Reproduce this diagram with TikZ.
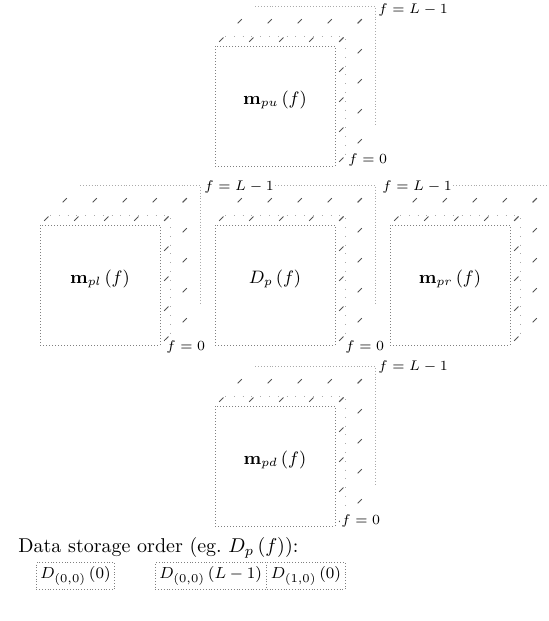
\documentclass[tikz,border=0pt]{standalone}
\usepackage{amsmath,amssymb,bm}
\usepackage{xcolor}
\usepackage{tikz}
\usetikzlibrary{positioning,calc}
\definecolor{lgray}{HTML}{ABABAB}
\definecolor{mgray}{HTML}{808080}
\definecolor{dgray}{HTML}{555555}
\tikzset{
  % dotted frame stacks, front face f=0 and back face f=L-1
  face/.style  = {densely dotted, mgray, line width=0.5pt},
  back/.style  = {densely dotted, lgray, line width=0.45pt},
  layer/.style = {loosely dotted, lgray, line width=0.4pt},
  depth/.style = {dash pattern=on 3pt off 10pt, dash phase=-3pt, dgray, line width=0.5pt},
  blk/.style   = {font=\small, inner sep=1pt},
  flbl/.style  = {font=\scriptsize, inner sep=0.5pt, anchor=west, fill=white},
  cell/.style  = {draw=mgray, densely dotted, font=\footnotesize, inner sep=2pt,
                  minimum height=13pt, anchor=west},
  head/.style  = {anchor=west, inner sep=0pt},
}

\begin{document}
\begin{tikzpicture}[x=0.5pt, y=-0.5pt]
\useasboundingbox (0,0) rectangle (548,621);

% --- frame stacks (front corner, 120 wide, depth 40) ------------------
\foreach \X/\Y in {215/46, 40/225, 215/225, 390/225, 215/406} {
  \draw[face] (\X,\Y) rectangle ++(120,120);
  \draw[layer] ($(\X,\Y)+(10,-10)$) -- ++(120,0) -- ++(0,120);
  \draw[back] ($(\X,\Y)+(40,-40)$) -- ++(120,0) -- ++(0,120);
  \foreach \k in {0,30,...,120} {
    \draw[depth] (\X+\k,\Y) -- ++(40,-40);
    \draw[depth] (\X+120,\Y+\k) -- ++(40,-40);
  }
}

% --- block names -------------------------------------------------------
\node[blk] (mpu) at (275,100) {$\mathbf{m}_{pu}\,(f)$};
\node[blk] (mpl) at (100,279) {$\mathbf{m}_{pl}\,(f)$};
\node[blk] (dp)  at (275,279) {$D_p\,(f)$};
\node[blk] (mpr) at (450,279) {$\mathbf{m}_{pr}\,(f)$};
\node[blk] (mpd) at (275,460) {$\mathbf{m}_{pd}\,(f)$};

% --- frame index labels -----------------------------------------------
\node[flbl] (mpuL) at (377,10)  {$f=L-1$};
\node[flbl] (mpu0) at (347,160) {$f=0$};
\node[flbl] (mplL) at (203,187) {$f=L-1$};
\node[flbl] (mpl0) at (165,347) {$f=0$};
\node[flbl] (dpL)  at (381,187) {$f=L-1$};
\node[flbl] (dp0)  at (344,347) {$f=0$};
\node[flbl] (mpdL) at (377,367) {$f=L-1$};
\node[flbl] (mpd0) at (340,521) {$f=0$};

% --- storage order -----------------------------------------------------
\node[head] (title) at (18,548) {Data storage order (eg.\ $D_p\,(f)$):};
\node[cell, minimum width=32pt] (c00) at (36,576)  {$D_{(0,0)}\,(0)$};
\node[cell, minimum width=46pt] (cL)  at (155,576) {$D_{(0,0)}\,(L-1)$};
\node[cell, minimum width=35pt, right=0pt of cL] (c10) {$D_{(1,0)}\,(0)$};
\end{tikzpicture}
\end{document}
